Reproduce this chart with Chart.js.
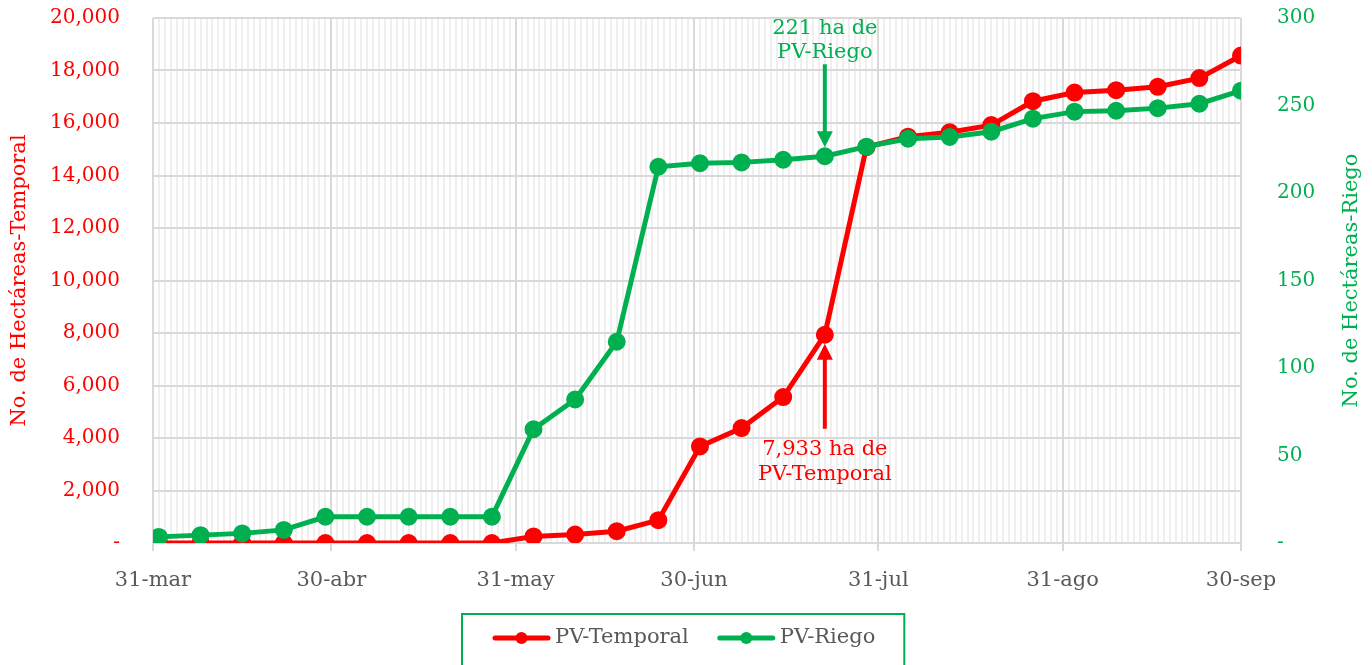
<!DOCTYPE html>
<html>
<head>
<meta charset="utf-8">
<script src="https://cdn.jsdelivr.net/npm/chart.js@4"></script>
<style>
  html, body { margin: 0; padding: 0; background: #fff; }
  #wrap { width: 1372px; height: 665px; }
</style>
</head>
<body>
<div id="wrap"><canvas id="chart" width="1372" height="665"></canvas></div>
<script>
// dias contados desde el 31-mar
const dias = [0, 1, 8, 15, 22, 29, 36, 43, 50, 57, 64, 71, 78, 85, 92, 99, 106, 113, 120, 127, 134, 141, 148, 155, 162, 169, 176, 183];
const pvTemporal = [0, 0, 0, 0, 0, 0, 0, 0, 0, 0, 250, 320, 450, 870, 3680, 4380, 5560, 7933, 15080, 15480, 15650, 15920, 16830, 17160, 17250, 17380, 17710, 18570];
const pvRiego = [0, 3.5, 4.5, 5.5, 7.5, 15, 15, 15, 15, 15, 65, 82, 115, 215, 217, 217.5, 219, 221, 226.5, 231, 232, 235, 242.5, 246.5, 247, 248.5, 251, 258.5];

const tickDias = [0, 30, 61, 91, 122, 153, 183];
const tickLabels = ["31-mar", "30-abr", "31-may", "30-jun", "31-jul", "31-ago", "30-sep"];

const diaNota = 113;
const notaTemporal = ["7,933 ha de", "PV-Temporal"];
const notaRiego = ["221 ha de", "PV-Riego"];

const ROJO = "#ff0000";
const VERDE = "#00b050";
const GRIS = "#595959";
const FONT = "DejaVu Serif";

function toPoints(vals) {
  return dias.map((d, i) => ({ x: d, y: vals[i] }));
}

function fmt(v) {
  return v === 0 ? "-" : v.toLocaleString("en-US");
}

// el padding de las etiquetas no debe empujar el area del grafico
function fixPad(s, w) {
  s.width = w;
  s.paddingTop = 11;
  s.paddingBottom = 11;
}

const extras = {
  id: "extras",
  afterDatasetsDraw(chart) {
    const ctx = chart.ctx;
    const idx = dias.indexOf(diaNota);
    const pr = chart.getDatasetMeta(0).data[idx];
    const pg = chart.getDatasetMeta(1).data[idx];
    ctx.save();
    ctx.font = "21px '" + FONT + "'";
    ctx.textAlign = "center";
    ctx.textBaseline = "middle";

    // flecha roja (hacia arriba)
    ctx.fillStyle = ROJO;
    ctx.strokeStyle = ROJO;
    ctx.lineWidth = 4;
    ctx.beginPath();
    ctx.moveTo(pr.x, pr.y + 22);
    ctx.lineTo(pr.x, pr.y + 94);
    ctx.stroke();
    ctx.beginPath();
    ctx.moveTo(pr.x, pr.y + 9);
    ctx.lineTo(pr.x - 8, pr.y + 25);
    ctx.lineTo(pr.x + 8, pr.y + 25);
    ctx.closePath();
    ctx.fill();
    ctx.fillText(notaTemporal[0], pr.x, pr.y + 115);
    ctx.fillText(notaTemporal[1], pr.x, pr.y + 140);

    // flecha verde (hacia abajo)
    ctx.fillStyle = VERDE;
    ctx.strokeStyle = VERDE;
    ctx.beginPath();
    ctx.moveTo(pg.x, pg.y - 92);
    ctx.lineTo(pg.x, pg.y - 22);
    ctx.stroke();
    ctx.beginPath();
    ctx.moveTo(pg.x, pg.y - 9);
    ctx.lineTo(pg.x - 8, pg.y - 25);
    ctx.lineTo(pg.x + 8, pg.y - 25);
    ctx.closePath();
    ctx.fill();
    ctx.fillText(notaRiego[0], pg.x, pg.y - 128);
    ctx.fillText(notaRiego[1], pg.x, pg.y - 104);
    ctx.restore();
  },
  afterDraw(chart) {
    const ctx = chart.ctx;
    const area = chart.chartArea;
    ctx.save();
    ctx.font = "21px '" + FONT + "'";

    // titulo eje derecho, leyendo de abajo hacia arriba
    ctx.fillStyle = VERDE;
    ctx.textAlign = "center";
    ctx.textBaseline = "middle";
    ctx.translate(1352, (area.top + area.bottom) / 2);
    ctx.rotate(-Math.PI / 2);
    ctx.fillText("No. de Hectáreas-Riego", 0, 0);
    ctx.setTransform(1, 0, 0, 1, 0, 0);

    // leyenda
    const ds = chart.data.datasets;
    const markW = 57, gapTxt = 5, gapItem = 29;
    const widths = ds.map(d => ctx.measureText(d.label).width);
    const total = ds.length * (markW + gapTxt) + widths.reduce((a, b) => a + b, 0) + gapItem * (ds.length - 1);
    const boxW = total + 60;
    const boxX = Math.round(chart.width / 2 - 3 - boxW / 2);
    const boxY = 614;
    ctx.strokeStyle = VERDE;
    ctx.lineWidth = 2;
    ctx.strokeRect(boxX, boxY, boxW, 70);
    let x = boxX + 31;
    const y = 638;
    ds.forEach((d, i) => {
      ctx.strokeStyle = d.borderColor;
      ctx.fillStyle = d.borderColor;
      ctx.lineWidth = 5;
      ctx.lineCap = "round";
      ctx.beginPath();
      ctx.moveTo(x + 2, y);
      ctx.lineTo(x + markW - 2, y);
      ctx.stroke();
      ctx.beginPath();
      ctx.arc(x + markW / 2, y, 6, 0, Math.PI * 2);
      ctx.fill();
      x += markW + gapTxt;
      ctx.fillStyle = GRIS;
      ctx.textAlign = "left";
      ctx.fillText(d.label, x, y);
      x += widths[i] + gapItem;
    });
    ctx.restore();
  }
};

new Chart(document.getElementById("chart"), {
  type: "line",
  data: {
    datasets: [
      {
        label: "PV-Temporal",
        data: toPoints(pvTemporal),
        yAxisID: "y",
        borderColor: ROJO,
        backgroundColor: ROJO,
        borderWidth: 5,
        pointRadius: 6.5,
        pointHoverRadius: 6.5,
        order: 2
      },
      {
        label: "PV-Riego",
        data: toPoints(pvRiego),
        yAxisID: "y1",
        borderColor: VERDE,
        backgroundColor: VERDE,
        borderWidth: 5,
        pointRadius: 6.5,
        pointHoverRadius: 6.5,
        order: 1
      }
    ]
  },
  options: {
    responsive: false,
    animation: false,
    layout: { padding: { top: 18, bottom: 0, left: 0, right: 0 } },
    plugins: {
      legend: { display: false },
      tooltip: { enabled: false }
    },
    scales: {
      x: {
        type: "linear",
        min: 0,
        max: 183,
        afterBuildTicks: s => {
          s.ticks = [];
          for (let d = 0; d <= 183; d++) s.ticks.push({ value: d });
        },
        afterFit: s => { s.height = 122; },
        ticks: {
          autoSkip: false,
          maxRotation: 0,
          minRotation: 0,
          padding: 17,
          color: GRIS,
          font: { family: FONT, size: 21 },
          callback: v => {
            const i = tickDias.indexOf(v);
            return i >= 0 ? tickLabels[i] : "";
          }
        },
        grid: {
          lineWidth: 2,
          tickLength: 8,
          color: c => (c.tick && tickDias.includes(c.tick.value)) ? "#d9d9d9" : "#efefef",
          tickColor: c => (c.tick && tickDias.includes(c.tick.value)) ? "#d9d9d9" : "rgba(0,0,0,0)"
        },
        border: { color: "#d9d9d9", width: 2 }
      },
      y: {
        position: "left",
        min: 0,
        max: 20000,
        afterFit: s => fixPad(s, 153),
        ticks: {
          stepSize: 2000,
          padding: 33,
          color: ROJO,
          font: { family: FONT, size: 20 },
          callback: v => fmt(v)
        },
        grid: { color: "#d9d9d9", lineWidth: 2, drawTicks: false },
        border: { display: false },
        title: {
          display: true,
          text: "No. de Hectáreas-Temporal",
          color: ROJO,
          font: { family: FONT, size: 21 },
          padding: { top: 7, bottom: 4 }
        }
      },
      y1: {
        position: "right",
        min: 0,
        max: 300,
        afterFit: s => fixPad(s, 131),
        ticks: {
          stepSize: 50,
          padding: 36,
          color: VERDE,
          font: { family: FONT, size: 20 },
          callback: v => fmt(v)
        },
        grid: { drawOnChartArea: false, drawTicks: false },
        border: { display: false }
      }
    }
  },
  plugins: [extras]
});
</script>
</body>
</html>
